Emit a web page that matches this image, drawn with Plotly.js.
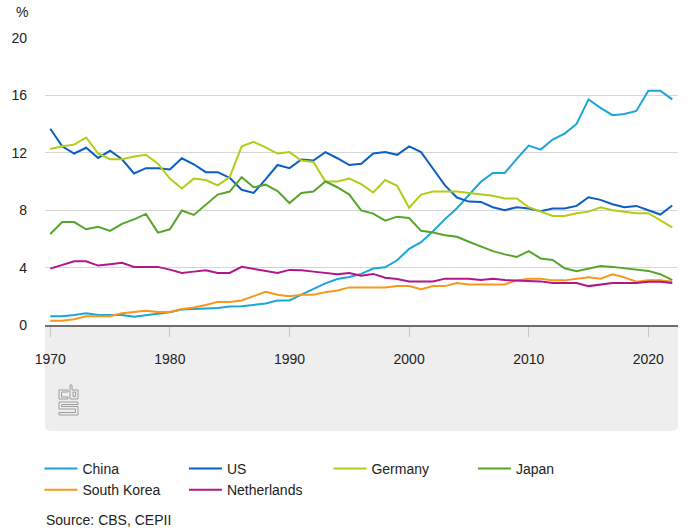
<!DOCTYPE html>
<html>
<head>
<meta charset="utf-8">
<script src="https://cdn.plot.ly/plotly-3.0.1.min.js"></script>
<style>
html,body{margin:0;padding:0;background:#fff;}
#chart{width:689px;height:530px;}
</style>
</head>
<body>
<div id="chart"></div>
<script>
var years = [];
for (var yr = 1970; yr <= 2022; yr++) years.push(yr);

var seriesNames = ["China", "US", "Germany", "Japan", "South Korea", "Netherlands"];
var seriesColors = ["#1aa6d6", "#0a5fc0", "#b4cc16", "#56a52a", "#f7971c", "#b2168a"];

var china = [0.61,0.61,0.70,0.82,0.70,0.70,0.70,0.58,0.70,0.80,
  0.89,1.08,1.12,1.12,1.19,1.29,1.31,1.40,1.50,1.71,
  1.71,2.11,2.53,2.90,3.20,3.35,3.56,3.93,4.02,4.51,
  5.31,5.77,6.53,7.38,8.14,9.06,9.98,10.6,10.6,11.57,
  12.5,12.22,12.92,13.34,14.01,15.72,15.13,14.62,14.71,14.92,
  16.32,16.32,15.72];
var us = [13.68,12.45,11.95,12.35,11.64,12.14,11.55,10.56,10.93,10.93,
  10.84,11.62,11.2,10.65,10.65,10.25,9.42,9.2,10.15,11.15,
  10.93,11.53,11.46,12.05,11.62,11.15,11.24,11.95,12.05,11.86,
  12.45,12.05,10.89,9.73,8.88,8.6,8.58,8.21,8.0,8.21,
  8.12,7.93,8.12,8.12,8.3,8.9,8.72,8.42,8.21,8.3,
  8.0,7.7,8.33];
var germany = [12.26,12.45,12.57,13.07,11.95,11.55,11.55,11.74,11.86,11.24,
  10.2,9.51,10.2,10.1,9.73,10.3,12.45,12.76,12.38,11.95,
  12.05,11.46,11.36,10.0,10.0,10.2,9.82,9.23,10.1,9.7,
  8.17,9.09,9.3,9.3,9.3,9.2,9.1,9.0,8.82,8.82,
  8.21,7.93,7.6,7.6,7.79,7.9,8.21,8.0,7.9,7.79,
  7.79,7.3,6.81];
var japan = [6.34,7.17,7.17,6.67,6.84,6.56,7.05,7.36,7.74,6.44,
  6.67,7.98,7.67,8.4,9.09,9.3,10.3,9.6,9.78,9.33,
  8.5,9.2,9.3,10.0,9.6,9.09,7.98,7.76,7.27,7.55,
  7.46,6.56,6.44,6.25,6.15,5.8,5.45,5.15,4.92,4.74,
  5.15,4.64,4.53,3.95,3.75,3.93,4.11,4.05,3.95,3.86,
  3.77,3.54,3.13];
var southKorea = [0.30,0.30,0.40,0.61,0.61,0.61,0.82,0.91,1.0,0.91,
  0.91,1.12,1.22,1.40,1.61,1.61,1.71,2.01,2.32,2.11,
  2.01,2.11,2.11,2.29,2.41,2.62,2.62,2.62,2.62,2.71,
  2.71,2.5,2.71,2.71,2.92,2.83,2.83,2.83,2.83,3.11,
  3.23,3.23,3.11,3.11,3.23,3.32,3.23,3.53,3.32,3.02,
  3.11,3.11,3.02];
var netherlands = [3.93,4.16,4.44,4.44,4.14,4.23,4.33,4.05,4.05,4.05,
  3.86,3.63,3.72,3.81,3.63,3.63,4.05,3.91,3.81,3.63,
  3.84,3.81,3.72,3.63,3.53,3.63,3.44,3.56,3.3,3.2,
  3.04,3.04,3.04,3.23,3.23,3.23,3.13,3.23,3.13,3.11,
  3.04,3.04,2.92,2.92,2.92,2.71,2.83,2.92,2.92,2.92,
  3.02,3.02,2.92];

var xTickVals = [1970, 1980, 1990, 2000, 2010, 2020];
var yTickVals = [0, 4, 8, 12, 16, 20];
var yAxisLabel = "%";
var sourceText = "Source: CBS, CEPII";

var allSeries = [china, us, germany, japan, southKorea, netherlands];
var traces = allSeries.map(function(vals, i) {
  return {
    x: years, y: vals, type: "scatter", mode: "lines",
    name: seriesNames[i],
    line: {color: seriesColors[i], width: 2},
    hoverinfo: "skip"
  };
});

var FONT = "Liberation Sans, Arial, Helvetica, sans-serif";
var FS = 14;

var layout = {
  width: 689, height: 530,
  margin: {l: 45, r: 11, t: 38, b: 205, pad: 0},
  paper_bgcolor: "#ffffff",
  plot_bgcolor: "rgba(0,0,0,0)",
  font: {family: FONT, size: FS, color: "#222222"},
  showlegend: true,
  xaxis: {
    range: [1969.56, 2022.48],
    tickvals: xTickVals,
    ticktext: xTickVals.map(String),
    showgrid: false, zeroline: false,
    showline: true, linecolor: "#6e6e6e", linewidth: 2,
    ticks: "outside", ticklen: 10, tickwidth: 1, tickcolor: "#c8c8c8",
    ticklabelstandoff: 10,
    tickfont: {family: FONT, size: FS, color: "#222222"},
    fixedrange: true
  },
  yaxis: {
    range: [0, 20],
    tickvals: yTickVals,
    ticktext: yTickVals.map(String),
    showgrid: true, gridcolor: "#d6d6d6", gridwidth: 1,
    zeroline: false, showline: false, ticks: "",
    ticklabelstandoff: 17,
    tickfont: {family: FONT, size: FS, color: "#222222"},
    fixedrange: true
  },
  legend: {
    orientation: "h",
    x: -0.0088, xanchor: "left",
    y: -0.446, yanchor: "top",
    itemwidth: 33,
    entrywidth: 96.5, entrywidthmode: "pixels",
    font: {family: FONT, size: FS, color: "#222222"},
    bgcolor: "rgba(0,0,0,0)",
    traceorder: "normal"
  },
  shapes: [
    {
      type: "path", layer: "below",
      xref: "paper", yref: "paper",
      xsizemode: "pixel", ysizemode: "pixel",
      xanchor: 0, yanchor: 0,
      path: "M0,0 H633 V-100 Q633,-106 627,-106 H6 Q0,-106 0,-100 Z",
      fillcolor: "#eeeeee", line: {width: 0}
    },
    {
      type: "path", layer: "above",
      xref: "paper", yref: "paper",
      xsizemode: "pixel", ysizemode: "pixel",
      xanchor: 0, yanchor: 0,
      path: "M23,-65 H14 V-74 H23 V-72 H16.5 V-67 H23 Z " +
            "M25,-60 H27 V-65 H33 V-74 H25 Z M28,-67 V-71.5 H30.5 V-67 Z " +
            "M33,-77 H14 V-84 H30.5 V-87.5 H14 V-90 H33 V-81.5 H16.5 V-79.5 H33 Z",
      fillcolor: "rgba(0,0,0,0)", line: {color: "#9c9c9c", width: 1}
    }
  ],
  annotations: [
    {
      text: yAxisLabel, xref: "paper", yref: "paper",
      x: 0, y: 1, xanchor: "center", yanchor: "middle",
      xshift: -23, yshift: 26, showarrow: false,
      font: {family: FONT, size: FS, color: "#222222"}
    },
    {
      text: sourceText, xref: "paper", yref: "paper",
      x: 0, y: 0, xanchor: "left", yanchor: "middle",
      xshift: -1, yshift: -195, showarrow: false,
      font: {family: FONT, size: FS, color: "#222222"}
    }
  ]
};

Plotly.newPlot("chart", traces, layout, {displayModeBar: false, staticPlot: true});
</script>
</body>
</html>
